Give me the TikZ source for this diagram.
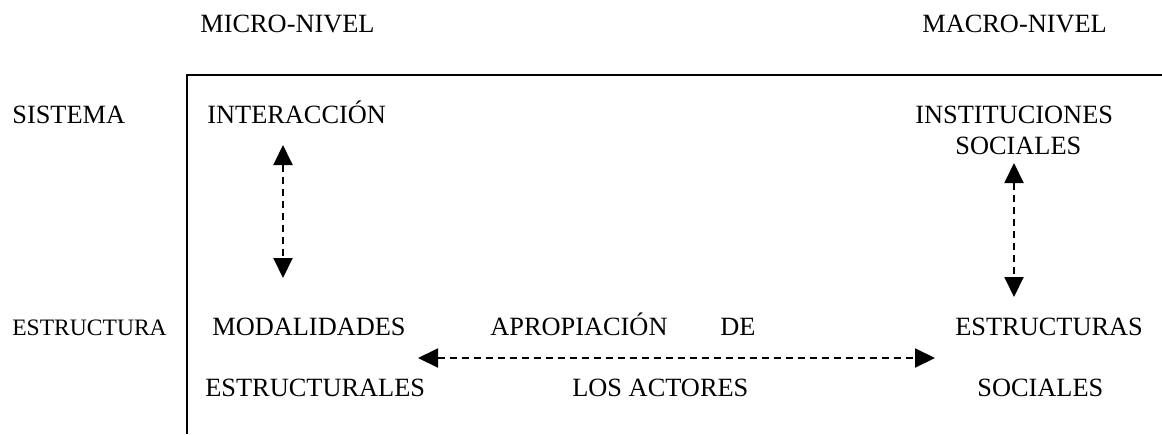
\documentclass[tikz,border=0pt]{standalone}
\usepackage{fontspec}
\setmainfont{Liberation Serif}
\usepackage{tikz}
\usetikzlibrary{arrows.meta}

\begin{document}
\begin{tikzpicture}[
    label/.style={anchor=base west, inner sep=0pt, font=\fontsize{15pt}{18pt}\selectfont},
    small label/.style={label, font=\fontsize{13.4pt}{16pt}\selectfont},
    frame/.style={line width=1.1pt},
    biarrow/.style={{Triangle[length=0.4cm,width=0.38cm]}-{Triangle[length=0.4cm,width=0.38cm]}, line width=1.1pt, dash pattern=on 0.15cm off 0.09cm}
]
\useasboundingbox (0,0) rectangle (23.24,-8.68);

% Levels
\node[label] (micro_nivel) at (4.00,-0.64) {MICRO-NIVEL};
\node[label] (macro_nivel) at (18.44,-0.64) {MACRO-NIVEL};

% Row labels
\node[label] (sistema) at (0.24,-2.46) {SISTEMA};
\node[small label] (estructura) at (0.24,-6.70) {ESTRUCTURA};

% Frame
\coordinate (frame_right) at (23.24,-1.50);
\coordinate (frame_corner) at (3.74,-1.50);
\coordinate (frame_bottom) at (3.74,-8.68);
\draw[frame] (frame_right) -- (frame_corner) -- (frame_bottom);

% Micro level
\node[label] (interaccion) at (4.14,-2.46) {INTERACCIÓN};
\node[label] (modalidades) at (4.24,-6.70) {MODALIDADES};
\node[label] (estructurales) at (4.10,-7.92) {ESTRUCTURALES};

% Actors
\node[label] (apropiacion) at (9.80,-6.70) {APROPIACIÓN};
\node[label] (de) at (14.40,-6.70) {DE};
\node[label] (actores) at (11.44,-7.92) {LOS ACTORES};

% Macro level
\node[label] (instituciones) at (18.30,-2.46) {INSTITUCIONES};
\node[label] (inst_sociales) at (19.10,-3.08) {SOCIALES};
\node[label] (estructuras) at (19.10,-6.70) {ESTRUCTURAS};
\node[label] (sociales) at (19.54,-7.92) {SOCIALES};

% Dashed links
\draw[biarrow] ([xshift=1.52cm,yshift=-0.44cm]interaccion.base west) -- ([xshift=1.42cm,yshift=1.14cm]modalidades.base west);
\draw[biarrow] ([xshift=1.18cm,yshift=-0.18cm]inst_sociales.base west) -- ([xshift=1.18cm,yshift=0.76cm]estructuras.base west);
\draw[biarrow] ([xshift=4.12cm,yshift=-0.46cm]modalidades.base west) -- ([xshift=-0.40cm,yshift=-0.46cm]estructuras.base west);

\end{tikzpicture}
\end{document}
